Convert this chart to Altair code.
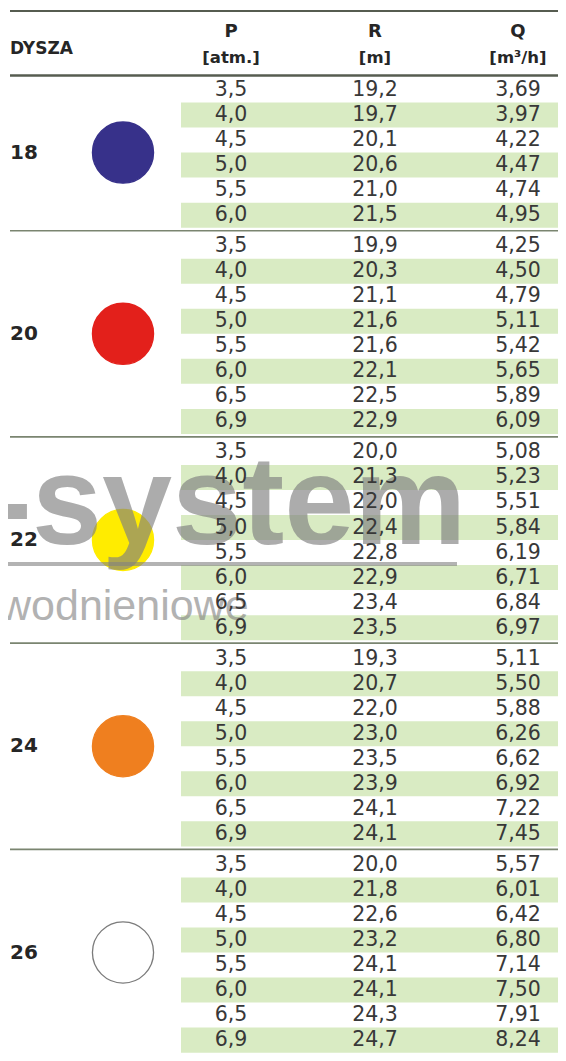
import altair as alt
import pandas as pd

# ---------------- data ----------------
nozzles = ["18", "20", "22", "24", "26"]
nozzle_fill = ["#37318a", "#e3201b", "#ffec00", "#ef7f1f", "#ffffff"]
nozzle_edge = ["#37318a", "#e3201b", "#ffec00", "#ef7f1f", "#7b7b7b"]

pressure_18 = [3.5, 4.0, 4.5, 5.0, 5.5, 6.0]
pressure_20 = [3.5, 4.0, 4.5, 5.0, 5.5, 6.0, 6.5, 6.9]
pressure_22 = [3.5, 4.0, 4.5, 5.0, 5.5, 6.0, 6.5, 6.9]
pressure_24 = [3.5, 4.0, 4.5, 5.0, 5.5, 6.0, 6.5, 6.9]
pressure_26 = [3.5, 4.0, 4.5, 5.0, 5.5, 6.0, 6.5, 6.9]

radius_18 = [19.2, 19.7, 20.1, 20.6, 21.0, 21.5]
radius_20 = [19.9, 20.3, 21.1, 21.6, 21.6, 22.1, 22.5, 22.9]
radius_22 = [20.0, 21.3, 22.0, 22.4, 22.8, 22.9, 23.4, 23.5]
radius_24 = [19.3, 20.7, 22.0, 23.0, 23.5, 23.9, 24.1, 24.1]
radius_26 = [20.0, 21.8, 22.6, 23.2, 24.1, 24.1, 24.3, 24.7]

flow_18 = [3.69, 3.97, 4.22, 4.47, 4.74, 4.95]
flow_20 = [4.25, 4.50, 4.79, 5.11, 5.42, 5.65, 5.89, 6.09]
flow_22 = [5.08, 5.23, 5.51, 5.84, 6.19, 6.71, 6.84, 6.97]
flow_24 = [5.11, 5.50, 5.88, 6.26, 6.62, 6.92, 7.22, 7.45]
flow_26 = [5.57, 6.01, 6.42, 6.80, 7.14, 7.50, 7.91, 8.24]

header_title = "DYSZA"
header_cols = ["P", "R", "Q"]
header_units = ["[atm.]", "[m]", "[m³/h]"]
watermark_big = "-system"
watermark_small = "wodnieniowe"

pressures = [pressure_18, pressure_20, pressure_22, pressure_24, pressure_26]
radii = [radius_18, radius_20, radius_22, radius_24, radius_26]
flows = [flow_18, flow_20, flow_22, flow_24, flow_26]

# ---------------- layout ----------------
W, H = 550, 1045
ROW = 25.03                 # px per table row
GAP = 6 / ROW               # gap between nozzle groups (row units)
FIRST = 69.5                # px from top of plot to first data row


def u(px):
    return (px - FIRST) / ROW


U_TOP, U_BOT = u(0), u(H)
COL_X = [223, 367, 510]
LABEL_X, CIRCLE_X = 2, 115
STRIPE_X0, STRIPE_X1 = 173, W
LINE_X0, LINE_X1 = 2, W

STRIPE = "#d9ebc3"
TEXT = "#383838"
HEAD = "#262626"


def f1(v):
    return f"{v:.1f}".replace(".", ",")


def f2(v):
    return f"{v:.2f}".replace(".", ",")


rows, cells, groups = [], [], []
k = 0
for g, name in enumerate(nozzles):
    start = k + g * GAP
    n = len(pressures[g])
    for i in range(n):
        top = start + i
        rows.append(dict(top=top, bot=top + 1, mid=top + 0.5, stripe=i % 2 == 1))
        for col, x, txt in zip(header_cols, COL_X,
                               [f1(pressures[g][i]), f1(radii[g][i]), f2(flows[g][i])]):
            cells.append(dict(col=col, x=x, mid=top + 0.5, txt=txt))
    groups.append(dict(name=name, fill=nozzle_fill[g], edge=nozzle_edge[g],
                       mid=start + n / 2, end=start + n))
    k += n

rows_df = pd.DataFrame(rows)
stripe_df = rows_df[rows_df["stripe"]]
cells_df = pd.DataFrame(cells)
groups_df = pd.DataFrame(groups)

lines = [dict(y=u(3), w=2.2, c="#565c50"), dict(y=u(67.5), w=2.5, c="#565c50")]
for gr in groups[:-1]:
    lines.append(dict(y=gr["end"] + GAP / 2, w=1.6, c="#7a8570"))
lines_df = pd.DataFrame(lines)

head_df = pd.DataFrame(dict(txt=header_cols, x=COL_X, y=[u(24)] * 3))
unit_df = pd.DataFrame(dict(txt=header_units, x=COL_X, y=[u(50)] * 3))
title_df = pd.DataFrame(dict(txt=[header_title], x=[LABEL_X], y=[u(41)]))

xs = alt.Scale(domain=[0, W], nice=False, zero=False)
ys = alt.Scale(domain=[U_TOP, U_BOT], nice=False, zero=False, reverse=True)


def X(f):
    return alt.X(f, type="quantitative", scale=xs, axis=None)


def Y(f):
    return alt.Y(f, type="quantitative", scale=ys, axis=None)


def XD(v):
    return alt.XDatum(v, type="quantitative", scale=xs, axis=None)


def YD(v):
    return alt.YDatum(v, type="quantitative", scale=ys, axis=None)


stripes = alt.Chart(stripe_df).mark_rect(color=STRIPE).encode(
    x=XD(STRIPE_X0), x2=alt.X2Datum(STRIPE_X1), y=Y("top"), y2="bot")

circles = alt.Chart(groups_df).mark_circle(size=3739, opacity=1, strokeWidth=1.3).encode(
    x=XD(CIRCLE_X), y=Y("mid"),
    fill=alt.Fill("fill:N", scale=None), stroke=alt.Stroke("edge:N", scale=None))

wm_big = alt.Chart(pd.DataFrame(dict(t=[watermark_big]))).mark_text(
    font="Liberation Sans", fontWeight="bold", fontSize=126, align="left",
    baseline="alphabetic", color="#808080", opacity=0.65).encode(
    x=XD(-18), y=YD(u(536)), text="t:N")
wm_small = alt.Chart(pd.DataFrame(dict(t=[watermark_small]))).mark_text(
    font="Liberation Sans", fontSize=43, align="left",
    baseline="alphabetic", color="#808080", opacity=0.6).encode(
    x=XD(-8), y=YD(u(612)), text="t:N")
wm_bar = alt.Chart(pd.DataFrame(dict(t=[watermark_big]))).mark_rule(
    strokeWidth=4, color="#808080", opacity=0.6).encode(
    x=XD(-8), x2=alt.X2Datum(449), y=YD(u(556)))

values = alt.Chart(cells_df).mark_text(
    font="DejaVu Sans", fontSize=20.5, color=TEXT, align="center", baseline="middle").encode(
    x=X("x"), y=Y("mid"), text="txt:N")

labels = alt.Chart(groups_df).mark_text(
    font="DejaVu Sans", fontWeight="bold", fontSize=20, color=HEAD,
    align="left", baseline="middle").encode(x=XD(LABEL_X), y=Y("mid"), text="name:N")

heads = alt.Chart(head_df).mark_text(
    font="DejaVu Sans", fontWeight="bold", fontSize=18, color=HEAD,
    align="center", baseline="middle").encode(x=X("x"), y=Y("y"), text="txt:N")
units = alt.Chart(unit_df).mark_text(
    font="DejaVu Sans", fontWeight="bold", fontSize=16.5, color=HEAD,
    align="center", baseline="middle").encode(x=X("x"), y=Y("y"), text="txt:N")
title = alt.Chart(title_df).mark_text(
    font="DejaVu Sans", fontWeight="bold", fontSize=17, color=HEAD,
    align="left", baseline="middle").encode(x=X("x"), y=Y("y"), text="txt:N")

rules = alt.Chart(lines_df).mark_rule().encode(
    x=XD(LINE_X0), x2=alt.X2Datum(LINE_X1), y=Y("y"),
    strokeWidth=alt.StrokeWidth("w:Q", scale=None),
    color=alt.Color("c:N", scale=None))

chart = alt.layer(
    stripes, circles, wm_big, wm_small, wm_bar, values, labels, heads, units, title, rules
).properties(
    width=W, height=H, padding=0,
    autosize=alt.AutoSizeParams(type="none"),
    background="#ffffff",
).configure_view(stroke=None)

chart.save("out.html", embed_options={"renderer": "svg", "actions": False})
